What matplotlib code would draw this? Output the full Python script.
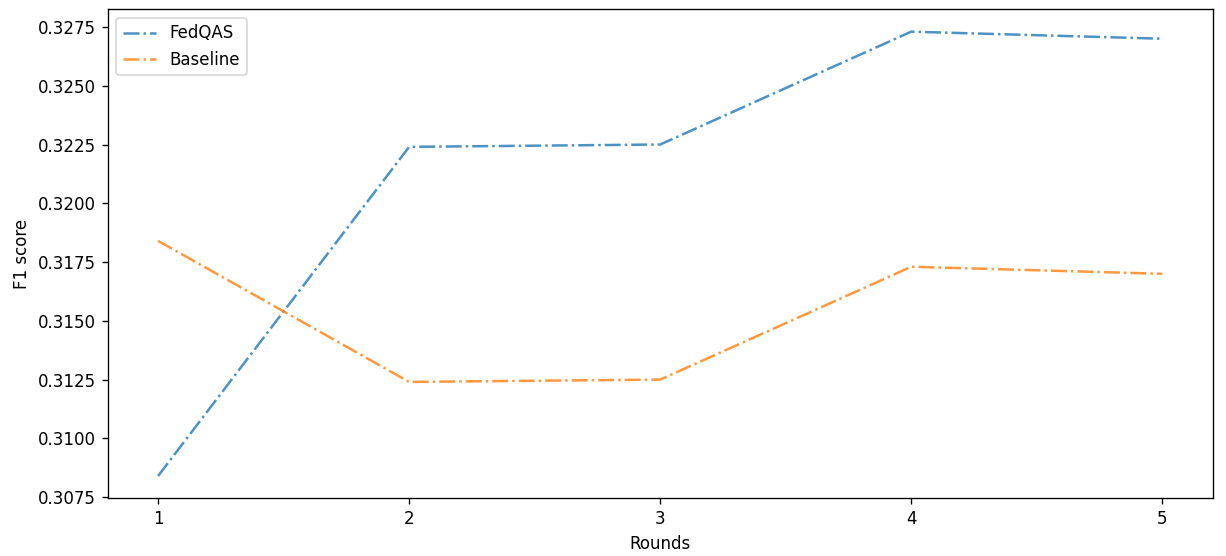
import matplotlib
matplotlib.use("Agg")
import matplotlib.pyplot as plt

rounds = [1, 2, 3, 4, 5]
fedqas = [0.3084, 0.3224, 0.3225, 0.3273, 0.3270]
baseline = [0.3184, 0.3124, 0.3125, 0.3173, 0.3170]

fig = plt.figure(figsize=(1226 / 120, 556 / 120), dpi=120)
ax = fig.add_axes([0.088, 0.104, 0.901, 0.879])

ax.plot(rounds, fedqas, linestyle="-.", color="tab:blue", alpha=0.8, label="FedQAS")
ax.plot(rounds, baseline, linestyle="-.", color="tab:orange", alpha=0.8, label="Baseline")

ax.set_xticks(rounds)
ax.set_xlabel("Rounds")
ax.set_ylabel("F1 score")
ax.legend(loc="upper left")

fig.savefig("out.png", dpi=120)
